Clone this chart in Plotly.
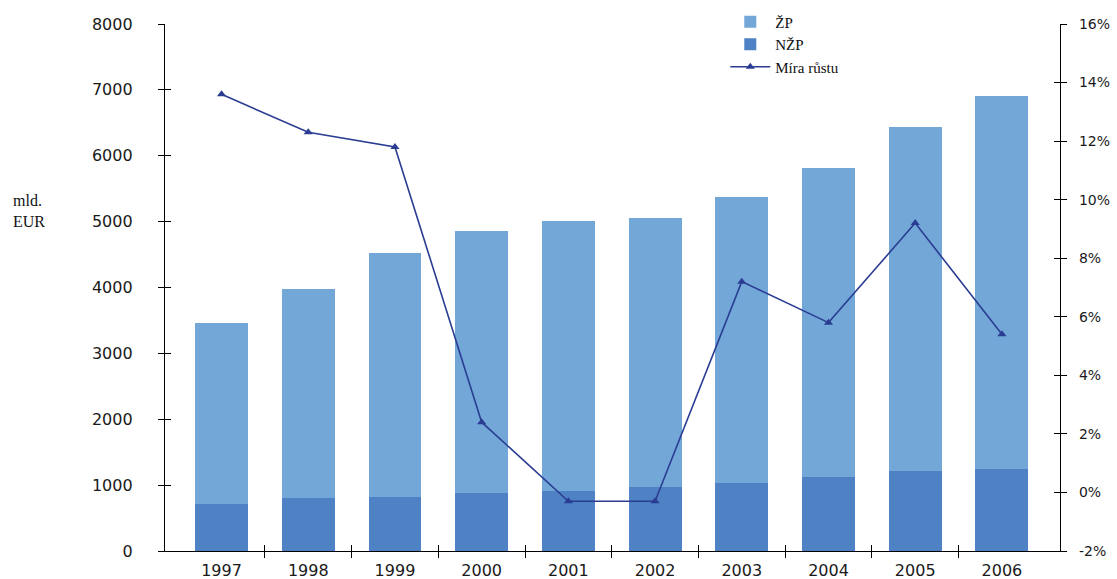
import plotly.graph_objects as go

# Data: mld. EUR by year, split into ŽP / NŽP, plus growth rate (%)
years = [1997, 1998, 1999, 2000, 2001, 2002, 2003, 2004, 2005, 2006]
total = [3460, 3970, 4530, 4860, 5010, 5050, 5370, 5810, 6430, 6910]
nzp = [720, 810, 824, 876, 916, 976, 1037, 1128, 1214, 1240]
growth = [13.6, 12.3, 11.8, 2.4, -0.3, -0.3, 7.2, 5.8, 9.2, 5.4]

left_ticks = list(range(0, 8001, 1000))
right_ticks = list(range(-2, 17, 2))
right_labels = [f"{v}%" for v in right_ticks]

zp = [t - n for t, n in zip(total, nzp)]
boundaries = [y + 0.5 for y in years[:-1]]

c_zp = "#72A7D8"
c_nzp = "#4E82C4"
c_line = "#2B3D92"

tick_font = dict(family="DejaVu Sans", size=16, color="#1a1a1a")
right_font = dict(family="DejaVu Sans", size=14, color="#1a1a1a")
serif = dict(family="Liberation Serif", size=16, color="#111111")

fig = go.Figure()
fig.add_trace(go.Bar(x=years, y=nzp, name="NŽP", marker=dict(color=c_nzp, line=dict(width=0)),
                     width=0.61, legendrank=2))
fig.add_trace(go.Bar(x=years, y=zp, name="ŽP", marker=dict(color=c_zp, line=dict(width=0)),
                     width=0.61, legendrank=1))
fig.add_trace(go.Scatter(x=years, y=growth, name="Míra růstu", yaxis="y2", mode="lines+markers",
                         line=dict(color=c_line, width=1.6),
                         marker=dict(symbol="triangle-up", size=8, color=c_line),
                         legendrank=3))
# empty traces so the tick-only overlay axes get drawn
fig.add_trace(go.Scatter(x=[], y=[], xaxis="x2", yaxis="y3", showlegend=False, hoverinfo="skip"))
fig.add_trace(go.Scatter(x=[], y=[], xaxis="x3", yaxis="y4", showlegend=False, hoverinfo="skip"))

xr = [1996.348, 2006.67]
tick_common = dict(tickcolor="black", tickwidth=1.3, ticklen=6, showgrid=False, zeroline=False,
                   automargin=False)
fig.update_layout(
    width=1117, height=579,
    margin=dict(l=165, r=57, t=24, b=28, autoexpand=False),
    paper_bgcolor="white", plot_bgcolor="white",
    barmode="stack", bargap=0,
    showlegend=True,
    legend=dict(x=0.626, y=1.035, xanchor="left", yanchor="top", traceorder="normal",
                font=dict(family="Liberation Serif", size=15, color="#111111"),
                bgcolor="rgba(0,0,0,0)", tracegroupgap=0, itemwidth=40),
    xaxis=dict(range=xr, tickvals=years, ticktext=[str(y) for y in years], ticks="",
               showline=True, linecolor="black", linewidth=1.3, showgrid=False, zeroline=False,
               automargin=False, tickfont=tick_font, ticklabelstandoff=5),
    xaxis2=dict(range=xr, overlaying="x", anchor="y", side="bottom", tickvals=boundaries,
                ticks="outside", showticklabels=False, showline=False, **tick_common),
    xaxis3=dict(range=xr, overlaying="x", anchor="y", side="bottom", tickvals=boundaries,
                ticks="inside", showticklabels=False, showline=False, **tick_common),
    yaxis=dict(range=[0, 8000], tickvals=left_ticks, ticks="outside", showline=True,
               linecolor="black", linewidth=1.3, tickfont=tick_font, ticklabelstandoff=22,
               **tick_common),
    yaxis2=dict(range=[-2, 16], tickvals=right_ticks, ticktext=right_labels, side="right",
                overlaying="y", ticks="outside", showline=True, linecolor="black", linewidth=1.3,
                tickfont=right_font, ticklabelstandoff=9, **tick_common),
    yaxis3=dict(range=[0, 8000], tickvals=left_ticks, overlaying="y", side="left",
                ticks="inside", showticklabels=False, showline=False, **tick_common),
    yaxis4=dict(range=[-2, 16], tickvals=right_ticks, overlaying="y", side="right",
                ticks="inside", showticklabels=False, showline=False, **tick_common),
    annotations=[dict(text="mld.<br>EUR", xref="paper", yref="paper", x=-0.172, y=0.645,
                      xanchor="left", yanchor="middle", align="left", showarrow=False,
                      font=serif)],
)

fig.write_html("out.html")
